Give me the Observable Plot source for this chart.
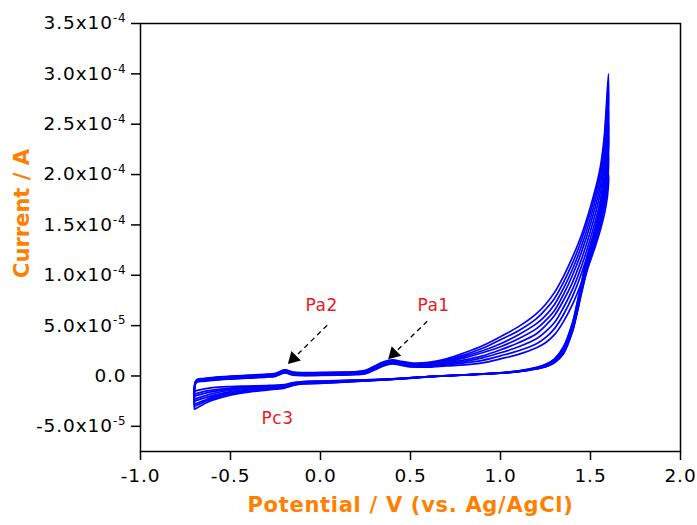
<!DOCTYPE html>
<html><head><meta charset="utf-8">
<script src="https://cdn.jsdelivr.net/npm/d3@7"></script>
<script src="https://cdn.jsdelivr.net/npm/@observablehq/plot@0.6"></script>
<style>
body{margin:0;background:#fff;}
#chart svg{font-family:"DejaVu Sans",Verdana,sans-serif;}
#chart svg g[aria-label$="tick label"] text{letter-spacing:0.9px;}
</style></head><body><div id="chart"></div>
<script>
// currents are given in units of 1e-5 A
const unit = 1e-5;
const potentialForward = [-0.7, -0.69, -0.65, -0.6, -0.5, -0.4, -0.3, -0.25, -0.2, -0.15, -0.1, 0.0, 0.1, 0.2, 0.25, 0.3, 0.35, 0.4, 0.45, 0.5, 0.6, 0.7, 0.8, 0.9, 1.0, 1.1, 1.2, 1.25, 1.3, 1.35, 1.4, 1.45, 1.5, 1.55, 1.575, 1.6];
const potentialReverse = [1.595, 1.585, 1.575, 1.55, 1.52, 1.48, 1.45, 1.42, 1.4, 1.35, 1.3, 1.25, 1.2, 1.1, 1.0, 0.8, 0.6, 0.4, 0.2, 0.0, -0.1, -0.15, -0.2, -0.25, -0.3, -0.4, -0.5, -0.6, -0.65, -0.7];

const forward1 = [-3.3, -0.4, -0.25, -0.15, -0.02, 0.08, 0.18, 0.26, 0.6, 0.38, 0.33, 0.35, 0.38, 0.44, 0.56, 0.98, 1.4, 1.6, 1.45, 1.3, 1.35, 1.7, 2.3, 3.0, 3.9, 4.9, 6.2, 7.1, 8.3, 9.9, 11.8, 14.0, 16.8, 20.3, 23.5, 30.0];
const forward2 = [-3.0, -0.43, -0.29, -0.19, -0.06, 0.04, 0.14, 0.22, 0.56, 0.34, 0.29, 0.31, 0.34, 0.4, 0.51, 0.92, 1.33, 1.53, 1.38, 1.23, 1.28, 1.6, 2.1, 2.75, 3.6, 4.5, 5.7, 6.6, 7.7, 9.3, 11.2, 13.5, 16.3, 19.8, 23.0, 29.2];
const forward3 = [-2.8, -0.46, -0.33, -0.23, -0.1, 0.0, 0.1, 0.18, 0.52, 0.3, 0.25, 0.27, 0.3, 0.35, 0.46, 0.86, 1.27, 1.47, 1.32, 1.17, 1.2, 1.5, 1.95, 2.5, 3.2, 4.1, 5.2, 6.0, 7.1, 8.7, 10.6, 12.9, 15.7, 19.2, 22.3, 28.3];
const forward4 = [-2.5, -0.5, -0.37, -0.27, -0.15, -0.05, 0.05, 0.13, 0.47, 0.25, 0.2, 0.22, 0.25, 0.3, 0.41, 0.81, 1.21, 1.41, 1.26, 1.11, 1.13, 1.4, 1.8, 2.3, 2.9, 3.7, 4.7, 5.5, 6.5, 8.1, 10.0, 12.3, 15.1, 18.5, 21.4, 26.6];
const forward5 = [-2.3, -0.55, -0.42, -0.32, -0.2, -0.1, 0.0, 0.08, 0.42, 0.2, 0.15, 0.17, 0.2, 0.25, 0.35, 0.75, 1.15, 1.35, 1.2, 1.05, 1.05, 1.3, 1.6, 2.0, 2.6, 3.3, 4.2, 5.0, 6.0, 7.5, 9.3, 11.6, 14.4, 17.8, 20.6, 25.3];
const forward6 = [-2.0, -0.58, -0.45, -0.36, -0.24, -0.14, -0.04, 0.04, 0.38, 0.16, 0.11, 0.13, 0.16, 0.21, 0.31, 0.7, 1.1, 1.3, 1.15, 1.0, 0.98, 1.2, 1.45, 1.8, 2.3, 2.9, 3.7, 4.4, 5.3, 6.8, 8.6, 10.9, 13.7, 17.0, 19.6, 23.9];
const forward7 = [-1.8, -0.62, -0.5, -0.4, -0.28, -0.18, -0.08, 0.0, 0.34, 0.12, 0.07, 0.09, 0.12, 0.17, 0.26, 0.65, 1.05, 1.25, 1.1, 0.95, 0.93, 1.1, 1.3, 1.55, 2.0, 2.5, 3.2, 3.8, 4.7, 6.1, 7.9, 10.2, 13.0, 16.2, 18.6, 22.0];
const forward8 = [-1.5, -0.65, -0.53, -0.44, -0.32, -0.22, -0.12, -0.04, 0.3, 0.08, 0.03, 0.05, 0.08, 0.13, 0.22, 0.6, 1.0, 1.2, 1.05, 0.9, 0.88, 1.0, 1.1, 1.3, 1.7, 2.15, 2.8, 3.3, 4.1, 5.4, 7.1, 9.3, 12.0, 15.2, 17.4, 20.0];

const reverse1 = [25, 21, 19.6, 16.6, 14.3, 11.8, 9.3, 6.8, 5.3, 2.9, 1.7, 1.15, 0.85, 0.5, 0.32, 0.12, -0.1, -0.35, -0.55, -0.75, -0.8, -0.95, -1.2, -1.3, -1.4, -1.6, -1.9, -2.4, -2.8, -3.3];
const reverse2 = [24.2, 20.6, 19.2, 16.3, 14.0, 11.6, 9.1, 6.7, 5.2, 2.8, 1.65, 1.1, 0.82, 0.49, 0.31, 0.12, -0.09, -0.34, -0.53, -0.72, -0.77, -0.9, -1.15, -1.25, -1.33, -1.5, -1.78, -2.25, -2.6, -3.0];
const reverse3 = [23.2, 20.0, 18.8, 16.0, 13.8, 11.4, 8.9, 6.5, 5.0, 2.7, 1.6, 1.05, 0.8, 0.48, 0.3, 0.11, -0.08, -0.33, -0.5, -0.68, -0.73, -0.86, -1.1, -1.18, -1.25, -1.4, -1.65, -2.1, -2.45, -2.8];
const reverse4 = [22.0, 19.4, 18.3, 15.7, 13.5, 11.1, 8.8, 6.3, 4.9, 2.6, 1.5, 1.0, 0.78, 0.46, 0.3, 0.11, -0.07, -0.32, -0.48, -0.64, -0.7, -0.82, -1.05, -1.12, -1.18, -1.32, -1.55, -1.95, -2.2, -2.5];
const reverse5 = [21.0, 18.8, 17.8, 15.4, 13.3, 10.9, 8.6, 6.2, 4.8, 2.5, 1.45, 0.98, 0.76, 0.45, 0.29, 0.1, -0.06, -0.31, -0.46, -0.6, -0.66, -0.78, -1.0, -1.06, -1.1, -1.22, -1.42, -1.75, -2.0, -2.3];
const reverse6 = [20.2, 18.2, 17.2, 15.0, 13.0, 10.7, 8.5, 6.0, 4.6, 2.4, 1.4, 0.95, 0.74, 0.44, 0.29, 0.1, -0.06, -0.3, -0.44, -0.57, -0.62, -0.73, -0.95, -1.0, -1.04, -1.13, -1.3, -1.55, -1.75, -2.0];
const reverse7 = [19.0, 17.5, 16.6, 14.6, 12.8, 10.5, 8.3, 5.9, 4.5, 2.3, 1.35, 0.92, 0.72, 0.43, 0.28, 0.1, -0.05, -0.29, -0.42, -0.53, -0.58, -0.69, -0.9, -0.96, -1.0, -1.06, -1.2, -1.4, -1.55, -1.8];
const reverse8 = [18.0, 16.8, 15.9, 14.2, 12.5, 10.4, 8.2, 5.8, 4.4, 2.2, 1.3, 0.9, 0.7, 0.42, 0.28, 0.1, -0.05, -0.28, -0.4, -0.5, -0.55, -0.65, -0.85, -0.92, -0.95, -1.0, -1.05, -1.15, -1.3, -1.5];

const xTicks = [-1.0, -0.5, 0.0, 0.5, 1.0, 1.5, 2.0];
const yTicks = [-5e-5, 0, 5e-5, 1e-4, 1.5e-4, 2e-4, 2.5e-4, 3e-4, 3.5e-4];
const yTickLabels = ["-5.0x10^-5", "0.0", "5.0x10^-5", "1.0x10^-4", "1.5x10^-4", "2.0x10^-4", "2.5x10^-4", "3.0x10^-4", "3.5x10^-4"];

const peakNames = ["Pa2", "Pa1", "Pc3"];
const peakLabelV = [0.006, 0.628, -0.239];
const peakLabelI = [7.0e-5, 7.0e-5, -4.25e-5];
const arrowStartV = [0.037, 0.593];
const arrowStartI = [5.04e-5, 5.44e-5];
const arrowTipV = [-0.17, 0.387];
const arrowTipI = [1.39e-5, 1.86e-5];

const forwardSets = [forward1, forward2, forward3, forward4, forward5, forward6, forward7, forward8];
const reverseSets = [reverse1, reverse2, reverse3, reverse4, reverse5, reverse6, reverse7, reverse8];
const rows = [];
forwardSets.forEach((f, k) => {
  f.forEach((v, i) => rows.push({cycle: k + 1, potential: potentialForward[i], current: v * unit}));
  reverseSets[k].forEach((v, i) => rows.push({cycle: k + 1, potential: potentialReverse[i], current: v * unit}));
});
const labels = peakNames.map((n, i) => ({name: n, x: peakLabelV[i], y: peakLabelI[i]}));
const arrows = arrowStartV.map((v, i) => ({x1: v, y1: arrowStartI[i], x2: arrowTipV[i], y2: arrowTipI[i]}));

const orange = "#ff8000";
const plot = Plot.plot({
  width: 697, height: 525,
  marginLeft: 140, marginRight: 17, marginTop: 23, marginBottom: 74,
  style: {fontFamily: "DejaVu Sans, Verdana, sans-serif", fontSize: "18.5px", color: "black", background: "white"},
  x: {domain: [-1, 2]},
  y: {domain: [-7.5e-5, 3.5e-4]},
  marks: [
    Plot.line(rows, {x: "potential", y: "current", z: "cycle", stroke: "#0000ff", strokeWidth: 1.7, curve: "catmull-rom"}),
    Plot.link(arrows, {x1: "x1", y1: "y1", x2: "x2", y2: "y2", stroke: "black", strokeWidth: 1.3, strokeDasharray: "5,4"}),
    Plot.dot(arrows, {x: "x2", y: "y2", symbol: "triangle", r: 5, fill: "black", stroke: "none", rotate: 225, dx: 3.5, dy: -3.5}),
    Plot.text(labels, {x: "x", y: "y", text: "name", fill: "#e8191f", fontSize: 17, letterSpacing: 0.4}),
    Plot.frame({stroke: "black", strokeWidth: 1.5}),
    Plot.axisX({ticks: xTicks, tickSize: 9, tickPadding: 8, strokeWidth: 1.5, tickFormat: d => d.toFixed(1), label: null}),
    Plot.axisY({ticks: yTicks, tickSize: 9, tickPadding: 5, strokeWidth: 1.5, tickFormat: d => yTickLabels[yTicks.indexOf(d)], label: null}),
    Plot.text(["Potential / V (vs. Ag/AgCl)"], {frameAnchor: "bottom", textAnchor: "middle", dy: 60, fill: orange, fontWeight: "bold", fontSize: 21}),
    Plot.text(["Current / A"], {frameAnchor: "left", textAnchor: "middle", dx: -118, dy: -24, rotate: -90, fill: orange, fontWeight: "bold", fontSize: 21})
  ]
});
document.getElementById("chart").appendChild(plot);

// letter spacing for the titles and peak labels, and exponents as superscripts
d3.select(plot).selectAll("text").filter(function() {
  return this.textContent === "Potential / V (vs. Ag/AgCl)";
}).style("letter-spacing", "0.7px");
d3.select(plot).selectAll("text").filter(function() {
  return /^P[ac]\d$/.test(this.textContent);
}).style("letter-spacing", "0.5px");
d3.select(plot).selectAll('g[aria-label="y-axis tick label"] text').each(function() {
  const t = d3.select(this);
  const parts = this.textContent.split("^");
  if (parts.length === 2) {
    t.text(parts[0]);
    t.append("tspan").attr("dy", "-0.6em").attr("font-size", "0.64em").text(parts[1]);
  }
});
</script></body></html>
